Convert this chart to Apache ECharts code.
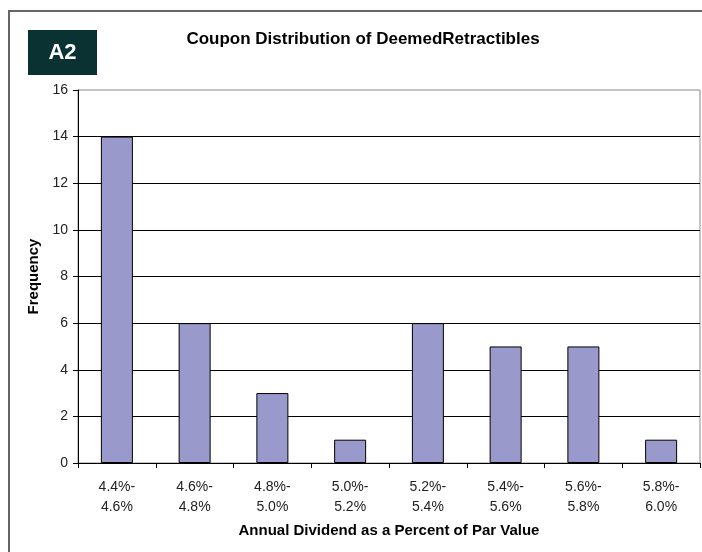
<!DOCTYPE html>
<html><head><meta charset="utf-8">
<script src="https://cdn.jsdelivr.net/npm/echarts@6/dist/echarts.min.js"></script>
<style>html,body{margin:0;padding:0;background:#fff}#c{width:702px;height:552px}</style>
</head><body><div id="c"></div>
<script>
const categories = ["4.4%-\n4.6%","4.6%-\n4.8%","4.8%-\n5.0%","5.0%-\n5.2%","5.2%-\n5.4%","5.4%-\n5.6%","5.6%-\n5.8%","5.8%-\n6.0%"];
const frequency = [14, 6, 3, 1, 6, 5, 5, 1];
const yTicks = {min: 0, max: 16, interval: 2};

const chart = echarts.init(document.getElementById('c'), null, {renderer: 'canvas'});
const F = '"Liberation Sans", Arial, sans-serif';
chart.setOption({
  animation: false,
  backgroundColor: '#fff',
  textStyle: {fontFamily: F},
  title: {
    text: 'Coupon Distribution of DeemedRetractibles',
    left: 358, top: 26, textAlign: 'center',
    textStyle: {fontFamily: F, fontSize: 17, fontWeight: 'bold', color: '#000'}
  },
  graphic: [
    {type: 'rect', shape: {x: 9, y: 11, width: 720, height: 560}, style: {fill: 'none', stroke: '#666', lineWidth: 2}, z: -1},
    {type: 'rect', shape: {x: 28, y: 30, width: 69, height: 45}, style: {fill: '#0a3232'}},
    {type: 'text', x: 62.5, y: 53, style: {text: 'A2', fill: '#fff', font: 'bold 22px ' + F, textAlign: 'center', textVerticalAlign: 'middle'}}
  ],
  grid: {left: 78, right: 2, top: 90, bottom: 89, show: true, borderColor: '#888', borderWidth: 1, backgroundColor: '#fff'},
  xAxis: {
    type: 'category', data: categories,
    name: 'Annual Dividend as a Percent of Par Value', nameLocation: 'middle', nameGap: 60,
    nameTextStyle: {fontFamily: F, fontSize: 15, fontWeight: 'bold', color: '#000'},
    axisLine: {lineStyle: {color: '#000', width: 1}},
    axisTick: {show: true, length: 5, alignWithLabel: false, lineStyle: {color: '#000'}},
    axisLabel: {fontFamily: F, fontSize: 14, color: '#222', lineHeight: 20, margin: 14},
    splitLine: {show: false}
  },
  yAxis: {
    type: 'value', min: yTicks.min, max: yTicks.max, interval: yTicks.interval,
    name: 'Frequency', nameLocation: 'middle', nameGap: 37,
    nameTextStyle: {fontFamily: F, fontSize: 15, fontWeight: 'bold', color: '#000'},
    axisLine: {show: true, lineStyle: {color: '#000', width: 1}},
    axisTick: {show: true, length: 5, lineStyle: {color: '#000'}},
    axisLabel: {fontFamily: F, fontSize: 14, color: '#222', margin: 10},
    splitLine: {show: true, showMaxLine: false, lineStyle: {color: '#000', width: 1}}
  },
  series: [{
    type: 'bar', data: frequency, barWidth: 32,
    itemStyle: {color: '#9999cc', borderColor: '#000', borderWidth: 1}
  }]
});
</script></body></html>
